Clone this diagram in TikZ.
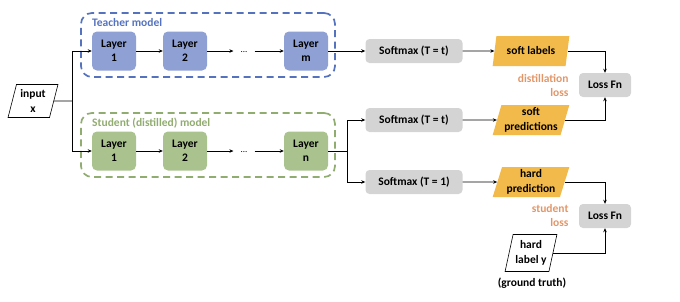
\documentclass[tikz,border=0pt]{standalone}
\usepackage{fontspec}
\setmainfont{Carlito}
\usetikzlibrary{positioning,arrows.meta,shapes.geometric}
\usepackage{xcolor}
\definecolor{teachfill}{RGB}{143,160,212}
\definecolor{teachline}{RGB}{84,114,190}
\definecolor{studfill}{RGB}{170,194,142}
\definecolor{studline}{RGB}{145,172,112}
\definecolor{softfill}{RGB}{212,212,212}
\definecolor{outfill}{RGB}{242,186,74}
\definecolor{losstext}{RGB}{226,150,104}

\begin{document}
\begin{tikzpicture}[x=1pt, y=-1pt,
    font=\fontsize{11.5}{14.5}\selectfont\bfseries,
    layer/.style={rounded corners=5pt, minimum width=44pt, minimum height=39pt,
                  align=center, inner sep=1pt},
    tlayer/.style={layer, fill=teachfill},
    slayer/.style={layer, fill=studfill},
    soft/.style={rounded corners=4pt, fill=softfill, minimum width=97pt,
                 minimum height=24pt, inner sep=1pt},
    lossfn/.style={soft, minimum width=52pt},
    para/.style={trapezium, trapezium left angle=72, trapezium right angle=108,
                 trapezium stretches=true, align=center, inner sep=0pt},
    outp/.style={para, fill=outfill, minimum width=77pt, minimum height=30pt},
    inbox/.style={para, draw, line width=0.6pt, fill=white, trapezium left angle=74,
                  trapezium right angle=106},
    modelbox/.style={rounded corners=11pt, line width=1.7pt,
                     dash pattern=on 7pt off 4.5pt, minimum width=254pt,
                     minimum height=64pt},
    dotsnode/.style={inner xsep=7pt, inner ysep=1pt, font=\fontsize{9}{10}\selectfont},
    flow/.style={-{Stealth[length=4pt, width=3.5pt]}, line width=0.7pt},
    link/.style={line width=0.7pt},
    losslab/.style={text=losstext, align=right, anchor=east}
]
    \useasboundingbox (0,0) rectangle (680,301);

    % model boxes
    \node[modelbox, draw=teachline] (tbox) at (208,45) {};
    \node[modelbox, draw=studline] (sbox) at (208,145) {};
    \node[text=teachline, anchor=west, inner sep=0pt] (tname) at (92,23) {Teacher model};
    \node[text=studline, anchor=west, inner sep=0pt] (sname) at (92,123) {Student (distilled) model};

    % input
    \node[inbox, minimum width=50pt, minimum height=33pt] (inp) at (33,101) {input\\x};
    \coordinate (split) at (72,101);

    % teacher layers
    \node[tlayer] (tl1) at (114,51) {Layer\\1};
    \node[tlayer] (tl2) at (185,51) {Layer\\2};
    \node[dotsnode] (tdots) at (244,52) {...};
    \node[tlayer] (tlm) at (306,51) {Layer\\m};

    % student layers
    \node[slayer] (sl1) at (114,151) {Layer\\1};
    \node[slayer] (sl2) at (185,151) {Layer\\2};
    \node[dotsnode] (sdots) at (244,152) {...};
    \node[slayer] (sln) at (306,151) {Layer\\n};
    \coordinate (branch) at (347,151);

    % softmax stages
    \node[soft] (smt) at (414,51) {Softmax (T = t)};
    \node[soft] (sms) at (414,120) {Softmax (T = t)};
    \node[soft] (smh) at (414,182) {Softmax (T = 1)};

    % outputs
    \node[outp] (softlab) at (531,51) {soft labels};
    \node[outp] (softpred) at (531,120) {soft\\predictions};
    \node[outp] (hardpred) at (531,182) {hard\\prediction};
    \node[inbox, minimum width=52pt, minimum height=37pt] (hardlab) at (531,253) {hard\\label y};
    \node (truth) at (532,283) {(ground truth)};

    % losses
    \node[lossfn] (lossd) at (605,85) {Loss Fn};
    \node[lossfn] (losss) at (605,216) {Loss Fn};
    \node[losslab] (dlab) at (572,85.5) {distillation\\loss};
    \node[losslab] (slab) at (572,215.5) {student\\loss};

    % connectors
    \draw[link] (inp) -- (split);
    \draw[flow] (split) |- (tl1);
    \draw[flow] (split) |- (sl1);
    \draw[flow] (tl1) -- (tl2);
    \draw[flow] (tl2) -- (tdots.west |- tl2);
    \draw[flow] (tdots.east |- tl2) -- (tlm);
    \draw[flow] (sl1) -- (sl2);
    \draw[flow] (sl2) -- (sdots.west |- sl2);
    \draw[flow] (sdots.east |- sl2) -- (sln);
    \draw[flow] (tlm) -- (smt);
    \draw[link] (sln) -- (branch);
    \draw[flow] (branch) |- (sms);
    \draw[flow] (branch) |- (smh);
    \draw[flow] (smt) -- (softlab);
    \draw[flow] (sms) -- (softpred);
    \draw[flow] (smh) -- (hardpred);
    \draw[flow] (softlab) -| (lossd.north);
    \draw[flow] (softpred) -| (lossd.south);
    \draw[flow] (hardpred) -| (losss.north);
    \draw[flow] (hardlab) -| (losss.south);
\end{tikzpicture}
\end{document}
